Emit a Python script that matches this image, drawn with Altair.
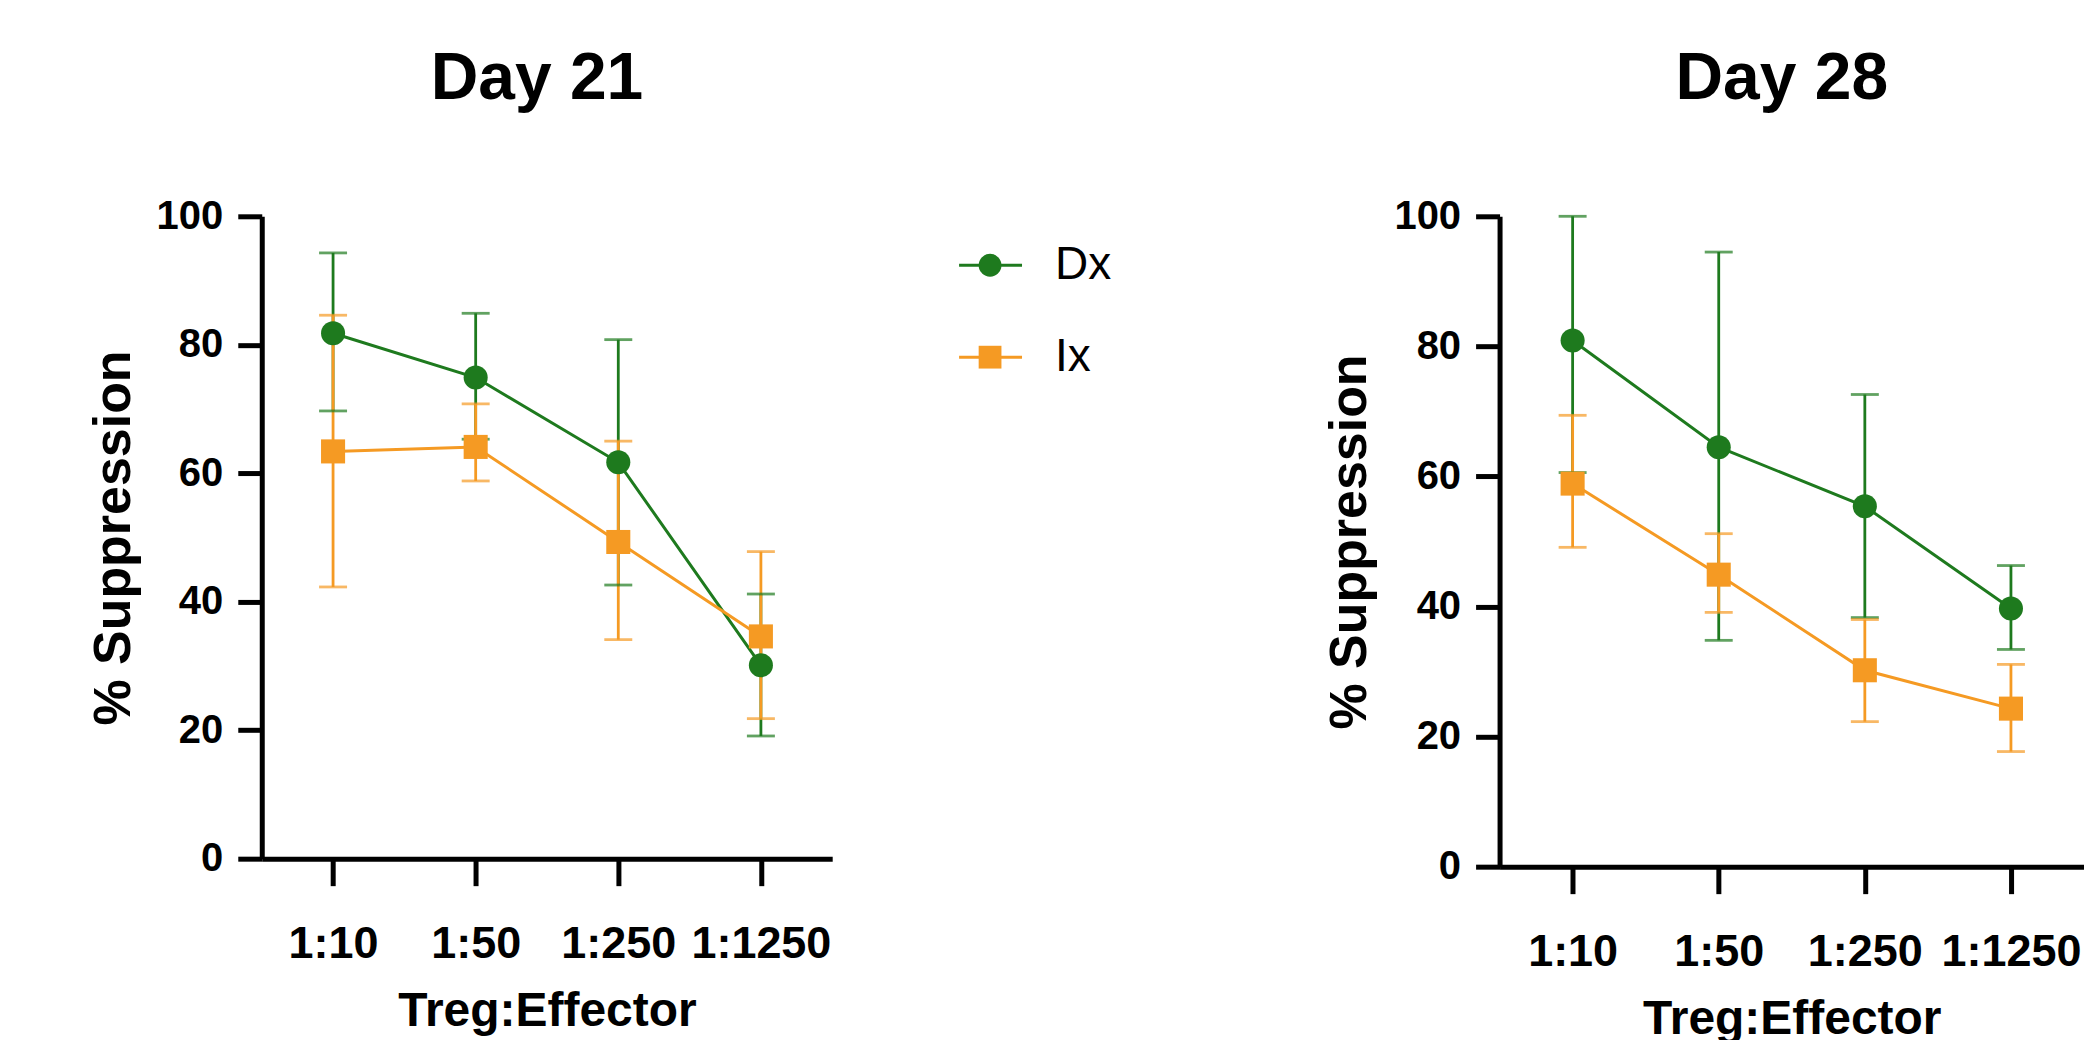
import altair as alt
import pandas as pd

ratios = ["1:10", "1:50", "1:250", "1:1250"]
groups = ["Dx", "Ix"]

# Day 21
d21_dx_mean = [81.8, 74.9, 61.7, 30.1]
d21_dx_hi = [94.3, 84.9, 80.8, 41.2]
d21_dx_lo = [69.7, 65.3, 42.6, 19.1]
d21_ix_mean = [63.4, 64.1, 49.3, 34.6]
d21_ix_hi = [84.6, 70.8, 65.0, 47.8]
d21_ix_lo = [42.3, 58.8, 34.1, 21.8]

# Day 28
d28_dx_mean = [80.9, 64.5, 55.4, 39.7]
d28_dx_hi = [100.0, 94.5, 72.6, 46.3]
d28_dx_lo = [60.6, 34.8, 38.3, 33.4]
d28_ix_mean = [58.9, 44.9, 30.2, 24.3]
d28_ix_hi = [69.4, 51.2, 38.0, 31.1]
d28_ix_lo = [49.1, 39.1, 22.3, 17.7]

GREEN = "#1e7a1e"
ORANGE = "#f59a23"
BOLD = "Liberation Sans, Arial, Helvetica, sans-serif"
REG = "Liberation Sans, Arial, Helvetica, sans-serif"


def make_df(dx_m, dx_lo, dx_hi, ix_m, ix_lo, ix_hi):
    rows = []
    for g, m, lo, hi in (("Dx", dx_m, dx_lo, dx_hi), ("Ix", ix_m, ix_lo, ix_hi)):
        for i, r in enumerate(ratios):
            rows.append({"ratio": r, "idx": i, "group": g, "mean": m[i], "lo": lo[i], "hi": hi[i]})
    return pd.DataFrame(rows)


df21 = make_df(d21_dx_mean, d21_dx_lo, d21_dx_hi, d21_ix_mean, d21_ix_lo, d21_ix_hi)
df28 = make_df(d28_dx_mean, d28_dx_lo, d28_dx_hi, d28_ix_mean, d28_ix_lo, d28_ix_hi)

color = alt.Color("group:N", scale=alt.Scale(domain=groups, range=[GREEN, ORANGE]), legend=None)
shape = alt.Shape("group:N", scale=alt.Scale(domain=groups, range=["circle", "square"]), legend=None)


def panel(df, title, w, h, title_offset, ytitle_x):
    x = alt.X(
        "ratio:N",
        sort=ratios,
        scale=alt.Scale(type="point", padding=0.5),
        axis=alt.Axis(
            title="Treg:Effector",
            labelAngle=0,
            labelFont=BOLD,
            labelFontSize=45,
            labelFontWeight="bold",
            labelColor="black",
            labelPadding=36,
            tickSize=27,
            tickWidth=5,
            tickColor="black",
            domainColor="black",
            domainWidth=5,
            titleFont=BOLD,
            titleFontSize=48,
            titleFontWeight="bold",
            titleColor="black",
            titlePadding=21,
            grid=False,
        ),
    )
    yscale = alt.Scale(domain=[0, 100], nice=False, zero=True)
    yaxis = alt.Axis(
        values=[0, 20, 40, 60, 80, 100],
        title="% Suppression",
        labelFont=BOLD,
        labelFontSize=40,
        labelFontWeight="bold",
        labelColor="black",
        labelPadding=15,
        tickSize=24,
        tickWidth=5,
        tickColor="black",
        domainColor="black",
        domainWidth=5,
        titleFont=REG,
        titleFontSize=52,
        titleFontWeight="bold",
        titleColor="black",
        titleX=ytitle_x,
        titleBaseline="middle",
        grid=False,
    )
    base = alt.Chart(df)
    bars = base.mark_rule(strokeWidth=2.8).encode(
        x=x, y=alt.Y("lo:Q", scale=yscale, axis=yaxis), y2="hi:Q", color=color
    )
    cap_lo = base.mark_tick(size=28, thickness=2.8).encode(x=x, y=alt.Y("lo:Q"), color=color)
    cap_hi = base.mark_tick(size=28, thickness=2.8).encode(x=x, y=alt.Y("hi:Q"), color=color)
    lines = base.mark_line(strokeWidth=3).encode(
        x=x, y=alt.Y("mean:Q"), color=color, detail="group:N", order="idx:Q"
    )
    pts = base.mark_point(filled=True, size=580, opacity=1).encode(
        x=x, y=alt.Y("mean:Q"), color=color, shape=shape
    )
    return alt.layer(bars, cap_lo, cap_hi, lines, pts).properties(
        width=w,
        height=h,
        title=alt.TitleParams(
            title,
            font=BOLD,
            fontSize=66,
            fontWeight="bold",
            color="black",
            anchor="middle",
            frame="group",
            baseline="alphabetic",
            offset=title_offset,
            dx=-10,
        ),
    )


left = panel(df21, "Day 21", 571, 643, 31, -148)
right = panel(df28, "Day 28", 585, 651, 31, -150)

leg_df = pd.DataFrame({"group": groups})
ly = alt.Y("group:N", sort=groups, scale=alt.Scale(type="point", domain=groups, range=[49, 141], padding=0), axis=None)
leg_rule = alt.Chart(leg_df).mark_rule(strokeWidth=3).encode(
    x=alt.value(0), x2=alt.value(63), y=ly, color=color
)
leg_pts = alt.Chart(leg_df).mark_point(filled=True, size=520, opacity=1).encode(
    x=alt.value(31), y=ly, color=color, shape=shape
)
leg_txt = alt.Chart(leg_df).mark_text(
    align="left", baseline="middle", font=REG, fontSize=46, color="black"
).encode(x=alt.value(96), y=ly, text="group:N")
legend = alt.layer(leg_rule, leg_pts, leg_txt).properties(width=240, height=200)

chart = (
    alt.hconcat(left, legend, right, spacing=125)
    .resolve_scale(x="independent", y="independent")
    .configure_view(stroke=None)
    .properties(padding={"left": 80, "top": 38, "right": 0, "bottom": 0})
)

chart.save("out.html", embed_options={"renderer": "svg", "actions": False})
